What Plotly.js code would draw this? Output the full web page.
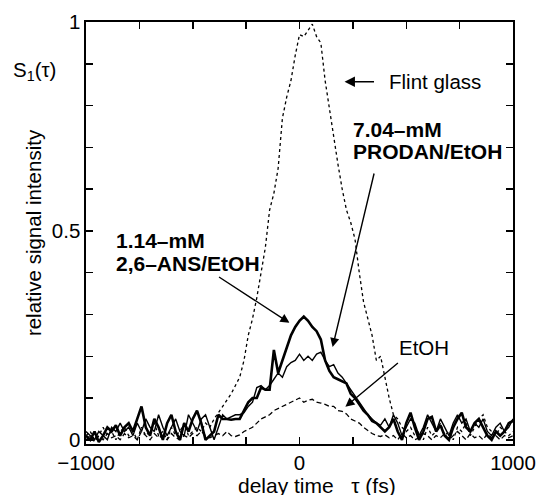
<!DOCTYPE html>
<html>
<head>
<meta charset="utf-8">
<script src="https://cdn.plot.ly/plotly-3.0.1.min.js"></script>
<style>html,body{margin:0;padding:0;background:#fff;}</style>
</head>
<body>
<div id="chart" style="width:538px;height:495px;"></div>
<script>
// delay time (fs)
const delay = [-1000,-980,-960,-940,-920,-900,-880,-860,-840,-820,-800,-780,-760,-740,-720,-700,-680,-660,-640,-620,
-600,-580,-560,-540,-520,-500,-480,-460,-440,-420,-400,-380,-360,-340,-320,-300,-280,-260,-240,-220,
-200,-180,-160,-140,-120,-100,-80,-60,-40,-20,0,20,40,60,80,100,120,140,160,180,
200,220,240,260,280,300,320,340,360,380,400,420,440,460,480,500,520,540,560,580,
600,620,640,660,680,700,720,740,760,780,800,820,840,860,880,900,920,940,960,980,1000];

const flintGlass = [0.01,0.02,0.00,0.01,0.03,0.01,0.02,0.00,0.02,0.03,0.01,0.02,0.00,0.03,0.01,0.02,0.04,0.01,0.02,0.00,
0.03,0.01,0.02,0.04,0.01,0.02,0.03,0.02,0.04,0.03,0.05,0.065,0.08,0.095,0.11,0.13,0.15,0.19,0.25,0.29,
0.34,0.40,0.46,0.55,0.59,0.65,0.77,0.82,0.86,0.92,0.97,0.965,0.98,0.995,0.965,0.95,0.86,0.79,0.72,0.66,
0.60,0.55,0.52,0.48,0.40,0.33,0.29,0.25,0.19,0.20,0.15,0.10,0.06,0.05,0.03,0.02,0.03,0.01,0.02,0.00,
0.03,0.01,0.02,0.04,0.01,0.02,0.00,0.03,0.02,0.04,0.01,0.03,0.05,0.06,0.03,0.02,0.01,0.03,0.02,0.01,0.02];

const ans = [0.01,0.00,0.02,-0.005,0.01,0.03,0.02,0.035,0.01,0.03,0.04,0.02,0.05,0.08,0.03,0.01,0.05,0.03,0.00,0.04,
0.06,0.02,0.00,0.04,0.02,0.05,0.07,0.04,0.00,0.01,0.02,0.06,0.05,0.05,0.048,0.05,0.05,0.07,0.09,0.10,
0.10,0.125,0.12,0.12,0.215,0.16,0.19,0.22,0.25,0.27,0.285,0.295,0.285,0.27,0.26,0.24,0.19,0.165,0.15,0.145,
0.14,0.135,0.11,0.10,0.085,0.07,0.06,0.045,0.04,0.03,0.02,0.03,0.05,0.02,0.00,0.04,0.065,0.03,0.00,0.02,
0.05,0.055,0.02,0.035,0.01,0.00,0.03,0.05,0.065,0.03,0.02,0.04,0.05,0.03,0.01,0.00,0.02,0.01,0.02,0.04,0.045];

const prodan = [0.02,0.01,0.00,0.02,0.01,0.00,0.03,0.02,0.04,0.02,0.03,0.01,0.04,0.02,0.05,0.03,0.02,0.06,0.03,0.01,
0.03,0.05,0.02,0.01,0.06,0.04,0.02,0.05,0.06,0.03,0.00,0.03,0.06,0.05,0.055,0.06,0.06,0.065,0.08,0.09,
0.125,0.13,0.12,0.13,0.145,0.16,0.15,0.175,0.185,0.19,0.205,0.19,0.20,0.19,0.205,0.21,0.19,0.175,0.18,0.16,
0.15,0.135,0.12,0.105,0.09,0.075,0.06,0.05,0.04,0.035,0.05,0.03,0.06,0.04,0.01,0.03,0.05,0.04,0.01,0.03,
0.06,0.04,0.02,0.05,0.03,0.01,0.04,0.06,0.04,0.05,0.02,0.04,0.03,0.05,0.02,0.01,0.03,0.04,0.02,0.03,0.05];

const etoh = [0.00,0.01,-0.005,0.01,0.00,0.015,0.005,0.01,0.00,0.015,0.005,0.01,0.00,0.02,0.01,0.00,0.015,0.005,0.01,0.00,
0.015,0.005,0.00,0.01,0.005,0.015,0.01,0.02,0.01,0.005,0.01,0.015,0.01,0.02,0.01,0.008,0.012,0.02,0.025,0.03,
0.04,0.05,0.055,0.06,0.07,0.075,0.08,0.085,0.09,0.095,0.10,0.09,0.095,0.097,0.09,0.088,0.085,0.08,0.08,0.07,
0.068,0.062,0.05,0.045,0.04,0.03,0.022,0.015,0.01,0.008,0.012,0.005,0.01,0.00,0.015,0.005,0.01,0.00,0.005,0.015,
0.01,0.00,0.01,0.005,0.015,0.00,0.01,0.02,0.01,0.00,0.015,0.005,0.01,0.00,0.015,0.005,0.01,0.00,0.01,0.005,0.01];

const xTickVals = [-1000, 0, 1000];
const xTickText = ['\u22121000', '0', '1000'];
const yTickVals = [0, 0.5, 1];
const yTickText = ['0', '0.5', '1'];

const FONT = 'Liberation Sans, Arial, Helvetica, sans-serif';
const XR = [-1000, 1000];
const YR = [-0.01, 1.0];

const traces = [
  {x: delay, y: flintGlass, mode: 'lines', line: {color: '#000', width: 1.3, dash: 'dot'}},
  {x: delay, y: etoh, mode: 'lines', line: {color: '#000', width: 1.3, dash: '5px,3px'}},
  {x: delay, y: prodan, mode: 'lines', line: {color: '#000', width: 1.4}},
  {x: delay, y: ans, mode: 'lines', line: {color: '#000', width: 2.6}},
  {x: delay, y: ans, xaxis: 'x2', yaxis: 'y2', mode: 'lines', line: {color: 'rgba(0,0,0,0)', width: 0}, hoverinfo: 'skip'}
];

const tickStyle = {ticks: 'inside', ticklen: 7, tickwidth: 1.5, tickcolor: '#000'};
const arrowBase = {xref: 'x', yref: 'y', axref: 'x', ayref: 'y', text: '', showarrow: true,
  arrowhead: 2, arrowsize: 1.3, arrowwidth: 1.4, arrowcolor: '#000'};
const labelBase = {xref: 'x', yref: 'y', xanchor: 'left', yanchor: 'middle', showarrow: false};

const layout = {
  width: 538, height: 495,
  margin: {l: 86, r: 25, t: 22, b: 51},
  paper_bgcolor: '#fff', plot_bgcolor: '#fff',
  showlegend: false,
  font: {family: FONT, size: 20, color: '#000'},
  xaxis: Object.assign({
    range: XR, tickvals: xTickVals, ticktext: xTickText,
    minor: Object.assign({dtick: 250, tick0: 0}, tickStyle),
    showline: true, linecolor: '#000', linewidth: 1.6, mirror: 'allticks',
    showgrid: false, zeroline: false, tickfont: {size: 20.5}
  }, tickStyle),
  yaxis: Object.assign({
    range: YR, tickvals: yTickVals, ticktext: yTickText,
    minor: Object.assign({dtick: 0.1, tick0: 0}, tickStyle),
    showline: true, linecolor: '#000', linewidth: 1.6, mirror: 'allticks',
    showgrid: false, zeroline: false, tickfont: {size: 20.5},
    title: {text: 'relative signal intensity', font: {size: 20.5}, standoff: 4}
  }, tickStyle),
  xaxis2: Object.assign({
    overlaying: 'x', side: 'top', range: XR, showticklabels: false,
    tickmode: 'linear', tick0: 0, dtick: 250,
    showline: false, showgrid: false, zeroline: false
  }, tickStyle),
  yaxis2: Object.assign({
    overlaying: 'y', side: 'right', range: YR, showticklabels: false,
    tickmode: 'linear', tick0: 0, dtick: 0.1,
    showline: false, showgrid: false, zeroline: false
  }, tickStyle),
  annotations: [
    {xref: 'paper', yref: 'paper', x: -0.175, y: 0.885, xanchor: 'left', yanchor: 'middle', showarrow: false,
     text: 'S<sub>1</sub>(\u03c4)', font: {size: 20.5}},
    {xref: 'paper', yref: 'paper', x: 0.541, y: -0.099, xanchor: 'center', yanchor: 'middle', showarrow: false,
     text: 'delay time \u00a0\u00a0\u03c4 (fs)', font: {size: 21}},
    Object.assign({}, labelBase, {x: 408, y: 0.857, text: 'Flint glass', font: {size: 20.5}}),
    Object.assign({}, arrowBase, {x: 211, y: 0.857, ax: 356, ay: 0.857, arrowwidth: 1.6}),
    Object.assign({}, labelBase, {x: 242, y: 0.742, text: '<b>7.04\u2013mM</b>', font: {size: 21}}),
    Object.assign({}, labelBase, {x: 242, y: 0.689, text: '<b>PRODAN/EtOH</b>', font: {size: 21}}),
    Object.assign({}, arrowBase, {x: 155, y: 0.222, ax: 351, ay: 0.641}),
    Object.assign({}, labelBase, {x: -867, y: 0.476, text: '<b>1.14\u2013mM</b>', font: {size: 21}}),
    Object.assign({}, labelBase, {x: -867, y: 0.423, text: '<b>2,6\u2013ANS/EtOH</b>', font: {size: 21}}),
    Object.assign({}, arrowBase, {x: -47, y: 0.28, ax: -384, ay: 0.392}),
    Object.assign({}, labelBase, {x: 585, y: 0.222, xanchor: 'center', text: 'EtOH', font: {size: 20.5}}),
    Object.assign({}, arrowBase, {x: 215, y: 0.079, ax: 468, ay: 0.187})
  ]
};

Plotly.newPlot('chart', traces, layout, {displayModeBar: false, staticPlot: true});
</script>
</body>
</html>
